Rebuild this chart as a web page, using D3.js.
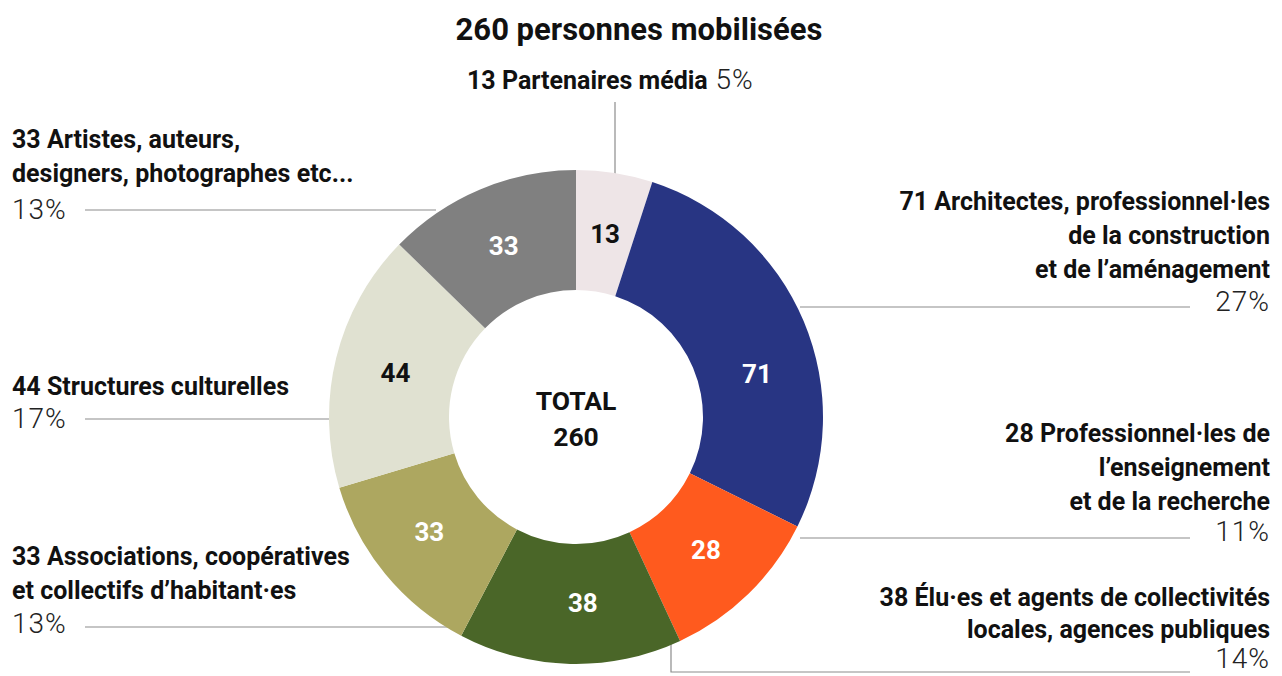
<!DOCTYPE html>
<html>
<head>
<meta charset="utf-8">
<script src="https://cdn.jsdelivr.net/npm/d3@7"></script>
<style>
html,body{margin:0;padding:0;background:#fff;}
svg text{font-family:Roboto,"Liberation Sans",sans-serif;}
</style>
</head>
<body>
<svg id="chart" width="1282" height="676"></svg>
<script>
const categories = [
  "Partenaires média",
  "Architectes, professionnel·les de la construction et de l’aménagement",
  "Professionnel·les de l’enseignement et de la recherche",
  "Élu·es et agents de collectivités locales, agences publiques",
  "Associations, coopératives et collectifs d’habitant·es",
  "Structures culturelles",
  "Artistes, auteurs, designers, photographes etc..."
];
const values = [13, 71, 28, 38, 33, 44, 33];
const percents = ["5%", "27%", "11%", "14%", "13%", "17%", "13%"];
const colors = ["#EEE5E7", "#283583", "#FF5A1E", "#4A6628", "#ADA760", "#E0E1D1", "#808080"];
const innerTextColors = ["#111", "#fff", "#fff", "#fff", "#fff", "#111", "#fff"];
const labelAngleNudge = [0, 9.4, 0, -3.5, 1.5, 0, 0];
const labelLines = [
  ["13 Partenaires média"],
  ["71 Architectes, professionnel·les", "de la construction", "et de l’aménagement"],
  ["28 Professionnel·les de", "l’enseignement", "et de la recherche"],
  ["38 Élu·es et agents de collectivités", "locales, agences publiques"],
  ["33 Associations, coopératives", "et collectifs d’habitant·es"],
  ["44 Structures culturelles"],
  ["33 Artistes, auteurs,", "designers, photographes etc..."]
];
const title = "260 personnes mobilisées";
const totalLabel = ["TOTAL", "260"];

const svg = d3.select("#chart");
const cx = 576, cy = 417, R = 247, r0 = 127;

svg.append("text").attr("x", 639).attr("y", 40).attr("text-anchor", "middle")
  .attr("font-size", 31).attr("font-weight", "bold").attr("fill", "#111").text(title);

const pie = d3.pie().sort(null).value(d => d)(values);
const arc = d3.arc().innerRadius(r0).outerRadius(R);

const g = svg.append("g").attr("transform", `translate(${cx},${cy})`);
g.selectAll("path").data(pie).join("path").attr("d", arc).attr("fill", (d, i) => colors[i]);
g.selectAll("text.v").data(pie).join("text").attr("class", "v")
  .attr("transform", (d, i) => {
    const a = (d.startAngle + d.endAngle) / 2 + labelAngleNudge[i] * Math.PI / 180;
    const rr = 186;
    return `translate(${rr * Math.sin(a)},${-rr * Math.cos(a)})`;
  })
  .attr("text-anchor", "middle").attr("dy", "0.36em")
  .attr("font-size", 26).attr("font-weight", "bold")
  .attr("fill", (d, i) => innerTextColors[i]).text(d => d.data);

g.append("text").attr("text-anchor", "middle").attr("y", -7).attr("font-size", 26.5)
  .attr("font-weight", "bold").attr("fill", "#111").text(totalLabel[0]);
g.append("text").attr("text-anchor", "middle").attr("y", 29).attr("font-size", 26.5)
  .attr("font-weight", "bold").attr("fill", "#111").text(totalLabel[1]);

const lineColor = "#8c8c8c";
const leaders = [
  [[615, 102], [615, 174]],
  [[800, 307], [1190, 307]],
  [[800, 538], [1190, 538]],
  [[671, 640], [671, 672], [1190, 672]],
  [[85, 627], [460, 627]],
  [[85, 419], [332, 419]],
  [[85, 210], [436, 210]]
];
svg.insert("g", ":first-child").selectAll("path").data(leaders).join("path")
  .attr("d", d => d3.line()(d)).attr("fill", "none").attr("stroke", lineColor).attr("stroke-width", 1.2);

const lh = 34;
const fs = 25, pfs = 28;
function block(lines, pct, x, y0, anchor, pctSameLine, pctY, lineH) {
  const t = svg.append("g");
  const h = lineH || lh;
  lines.forEach((ln, k) => {
    const tx = t.append("text").attr("x", x).attr("y", y0 + k * h).attr("text-anchor", anchor)
      .attr("font-size", fs).attr("font-weight", "bold").attr("fill", "#111").text(ln);
    if (pctSameLine && k === lines.length - 1) {
      tx.append("tspan").attr("font-weight", 300).attr("font-size", pfs).attr("letter-spacing", 1)
        .attr("fill", "#222").text(" " + pct);
    }
  });
  if (!pctSameLine) {
    t.append("text").attr("x", x).attr("y", pctY).attr("text-anchor", anchor)
      .attr("font-size", pfs).attr("font-weight", 300).attr("letter-spacing", 1).attr("fill", "#222").text(pct);
  }
}
block(labelLines[0], percents[0], 467, 89, "start", true);
block(labelLines[1], percents[1], 1270, 210, "end", false, 311);
block(labelLines[2], percents[2], 1270, 442, "end", false, 541);
block(labelLines[3], percents[3], 1270, 606, "end", false, 668, 32);
block(labelLines[4], percents[4], 12, 565, "start", false, 633);
block(labelLines[5], percents[5], 12, 395, "start", false, 428);
block(labelLines[6], percents[6], 12, 148, "start", false, 219);
</script>
</body>
</html>
